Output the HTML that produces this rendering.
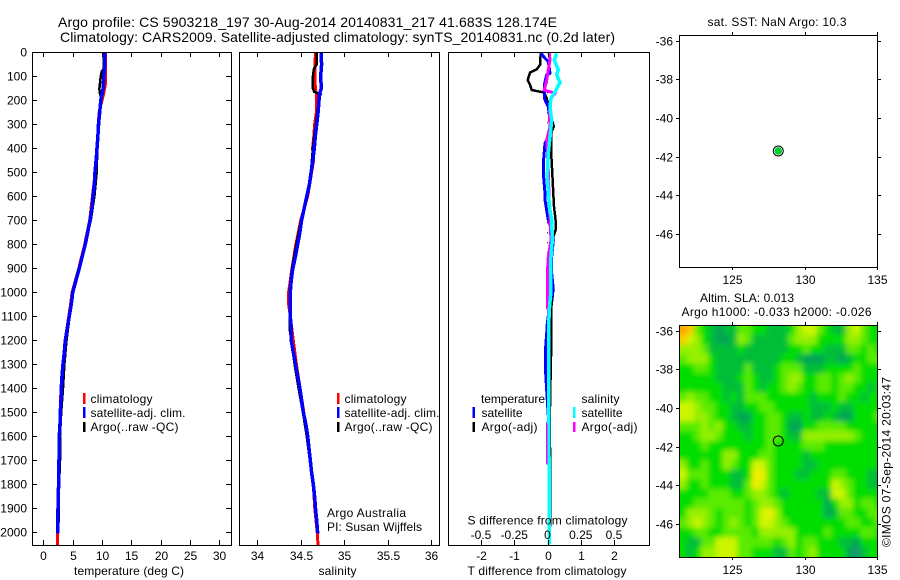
<!DOCTYPE html>
<html>
<head>
<meta charset="utf-8">
<style>
html,body{margin:0;padding:0;background:#fff;}
svg{display:block;}
text{font-family:"Liberation Sans",sans-serif;font-size:12px;fill:#000;}
.title{font-size:14px;}
.frame{fill:none;stroke:#000;stroke-width:1;shape-rendering:crispEdges;}
</style>
</head>
<body>
<svg id="chart" width="900" height="580" viewBox="0 0 900 580" xmlns="http://www.w3.org/2000/svg">
  <rect width="900" height="580" fill="#fff"/>
  <text class="title" x="58" y="27" textLength="499">Argo profile: CS 5903218_197 30-Aug-2014 20140831_217 41.683S 128.174E</text>
  <text class="title" x="60" y="42" textLength="555">Climatology: CARS2009. Satellite-adjusted climatology: synTS_20140831.nc (0.2d later)</text>

  <defs>
    <clipPath id="clip-t"><rect x="32" y="52" width="200" height="494"/></clipPath>
    <clipPath id="clip-s"><rect x="239" y="52" width="201" height="494"/></clipPath>
    <clipPath id="clip-d"><rect x="448" y="52" width="202" height="494"/></clipPath>
    <clipPath id="clip-map"><rect x="679" y="325" width="199" height="232"/></clipPath>
    <filter id="map-smooth" filterUnits="userSpaceOnUse" x="650" y="295" width="260" height="290">
      <feGaussianBlur stdDeviation="2.6"/>
    </filter>
  </defs>

  <g id="temp-marks" clip-path="url(#clip-t)"></g>
  <g id="sal-marks" clip-path="url(#clip-s)"></g>
  <g id="diff-marks" clip-path="url(#clip-d)"></g>
  <g clip-path="url(#clip-map)">
    <g id="map-cells" filter="url(#map-smooth)"></g>
  </g>
  <g id="ticks"></g>

  <rect class="frame" x="32.5" y="52.5" width="199" height="493"/>
  <rect class="frame" x="239.5" y="52.5" width="200" height="493"/>
  <rect class="frame" x="448.5" y="52.5" width="201" height="493"/>
  <rect class="frame" x="679.5" y="35.5" width="198" height="232"/>
  <rect class="frame" x="679.5" y="325.5" width="198" height="232"/>

  <text x="74" y="575" textLength="110">temperature (deg C)</text>
  <text x="318.5" y="575" textLength="38">salinity</text>
  <text x="467.5" y="575" textLength="159">T difference from climatology</text>
  <text x="467.5" y="524.5" textLength="160">S difference from climatology</text>

  <g>
    <rect x="83" y="393" width="2.5" height="11" fill="#f00"/>
    <rect x="83" y="407" width="2.5" height="11" fill="#00f"/>
    <rect x="83" y="422" width="2.5" height="10" fill="#000"/>
    <text x="90.5" y="403" textLength="62">climatology</text>
    <text x="90.5" y="417" textLength="95">satellite-adj. clim.</text>
    <text x="90.5" y="431" textLength="88">Argo(..raw -QC)</text>
  </g>
  <g>
    <rect x="337" y="393" width="2.5" height="11" fill="#f00"/>
    <rect x="337" y="407" width="2.5" height="11" fill="#00f"/>
    <rect x="337" y="422" width="2.5" height="10" fill="#000"/>
    <text x="344.5" y="403" textLength="62">climatology</text>
    <text x="344.5" y="417" textLength="95">satellite-adj. clim.</text>
    <text x="344.5" y="431" textLength="88">Argo(..raw -QC)</text>
  </g>
  <text x="327" y="517" textLength="79">Argo Australia</text>
  <text x="327" y="531" textLength="95">PI: Susan Wijffels</text>

  <g>
    <text x="481" y="403" textLength="64">temperature</text>
    <rect x="472.5" y="407" width="2.5" height="11" fill="#00f"/>
    <text x="481.5" y="417" textLength="41">satellite</text>
    <rect x="472.5" y="422" width="2.5" height="10" fill="#000"/>
    <text x="481.5" y="431" textLength="56">Argo(-adj)</text>
    <text x="581.5" y="403" textLength="38">salinity</text>
    <rect x="573" y="407" width="2.5" height="11" fill="#0ff"/>
    <text x="581.5" y="417" textLength="41">satellite</text>
    <rect x="573" y="422" width="2.5" height="10" fill="#f0f"/>
    <text x="581.5" y="431" textLength="56">Argo(-adj)</text>
  </g>

  <text x="707.5" y="26" textLength="139">sat. SST: NaN Argo: 10.3</text>
  <text x="700" y="302" textLength="94">Altim. SLA: 0.013</text>
  <text x="681.5" y="316" textLength="190">Argo h1000: -0.033 h2000: -0.026</text>
  <text transform="translate(890.5,547) rotate(-90)" x="0" y="0" textLength="170">©IMOS 07-Sep-2014 20:03:47</text>

  <g id="markers"></g>
</svg>

<script>
// ---------- profile data ----------
const tempDepths = [0,50,100,150,200,250,300,350,400,450,500,550,600,650,700,750,800,850,900,950,1000,1050,1100,1150,1200,1250,1300,1350,1400,1450,1500,1550,1600,1700,1800,1850,1900,2005];
const tempSatellite = [10.5,10.5,10.3,10.2,9.8,9.6,9.4,9.3,9.15,9.0,8.8,8.7,8.47,8.3,7.96,7.56,7.16,6.65,6.13,5.57,5.0,4.77,4.43,4.09,3.75,3.58,3.36,3.19,3.07,3.02,2.9,2.85,2.73,2.67,2.62,2.5,2.5,2.45];
const tempClimDepths = [0,90,130,170,250,350,500,700,800,900,1000,1050,1200,1400,1600,1800,2000,2057];
const tempClimatology = [10.6,10.6,10.6,10.3,9.5,9.25,8.85,7.9,7.05,6.05,4.9,4.65,3.72,3.02,2.72,2.57,2.45,2.45];
const tempArgoDepths = [0,70,80,100,150,170,190,300,400,500,600,700,800,900,1000,1200,1300,1400,1500,1600,1700,1800,1900,1960];
const tempArgo = [10.25,10.25,9.95,9.8,9.55,9.6,9.9,9.5,9.2,9.1,8.7,8.1,7.1,6.05,5.0,3.95,3.6,3.35,3.05,2.85,2.85,2.7,2.6,2.6];

const salDepths = [0,50,100,150,170,200,250,300,350,400,450,500,550,600,650,700,750,800,850,900,950,1000,1050,1100,1150,1200,1250,1300,1350,1400,1450,1500,1550,1600,1650,1700,1750,1800,1850,1900,1950,2005];
const salSatellite = [34.733,34.74,34.73,34.737,34.72,34.71,34.7,34.684,34.668,34.656,34.64,34.62,34.6,34.57,34.54,34.51,34.49,34.465,34.44,34.41,34.39,34.38,34.38,34.38,34.39,34.39,34.415,34.44,34.465,34.49,34.51,34.53,34.56,34.58,34.595,34.61,34.625,34.645,34.66,34.67,34.684,34.695];
const salClimDepths = [0,100,150,180,250,300,350,400,450,600,700,800,900,1000,1050,1100,1200,1300,1500,1800,1900,2000,2057];
const salClimatology = [34.668,34.665,34.668,34.684,34.68,34.66,34.65,34.637,34.648,34.58,34.5,34.445,34.4,34.36,34.36,34.38,34.415,34.45,34.535,34.645,34.662,34.69,34.7];
const salArgoDepths = [0,50,70,100,150,165,175,185,250,300,350,400,500,600,700,800,900,950,1000,1150,1200,1300,1400,1500,1600,1700,1800,1900,1950];
const salArgo = [34.687,34.684,34.65,34.64,34.64,34.655,34.73,34.715,34.69,34.675,34.655,34.64,34.617,34.57,34.505,34.45,34.4,34.383,34.372,34.372,34.39,34.43,34.475,34.525,34.57,34.605,34.64,34.665,34.68];

const diffTArgoDepths = [4,32,53,71,84,116,136,157,168,192,227,282,310,338,407,504,588,643,699,741,782,852,921,990,1074,1157,1268,1407,1546,1740,1976];
const diffTArgo = [-0.195,-0.225,-0.225,-0.326,-0.526,-0.596,-0.526,-0.476,-0.095,-0.025,0.045,0.145,0.185,0.105,0.105,0.145,0.175,0.195,0.245,0.245,0.145,0.075,0.125,0.175,0.105,0.105,0.105,0.085,0.065,0.085,0.085];
const diffTSatDepths = [4,25,39,87,94,136,157,192,227,282,338,379,463,504,588,615,699,741,782,852,921,990,1046,1129,1171,1227,1338,1449,1560,1830,1976];
const diffTSatellite = [-0.195,-0.075,0.025,0.075,-0.025,-0.095,-0.095,-0.095,0.025,0.075,0.085,-0.075,-0.125,-0.125,-0.075,-0.075,0.025,0.125,0.175,0.125,0.125,0.175,0.075,-0.005,-0.025,-0.055,-0.055,-0.005,0.045,0.045,0.045];
const diffSArgoDepths = [4,32,73,116,157,171,192,254,310,366,407,490,601,699,782,852,921,990,1060,1080,1530,1550,1718];
const diffSArgo = [0.0138,0.0188,0.0063,-0.0063,-0.0238,0.0564,0.0266,0.0138,0.0188,-0.0063,-0.0013,0.0063,0.0113,0.0188,0.0266,0.0063,-0.0013,-0.0013,-0.0013,0.0088,0.0088,-0.0013,-0.0013];
const diffSSatDepths = [4,32,73,94,126,164,192,227,282,352,421,518,588,660,699,782,852,921,990,1074,1157,1268,1407,1546,1685,2050];
const diffSSatellite = [0.0689,0.0514,0.0815,0.0689,0.094,0.0564,0.0266,0.0188,0.0313,0.0188,0.0063,-0.0013,0.0063,0.0188,0.0313,0.0363,0.0266,0.0238,0.0266,0.0138,0.0075,0.0075,0.0088,0.0113,0.0113,0.0113];

// ---------- tick labels ----------
const depthTicks = [0,100,200,300,400,500,600,700,800,900,1000,1100,1200,1300,1400,1500,1600,1700,1800,1900,2000];
const tempTicks = [0,5,10,15,20,25,30];
const salTicks = [34,34.5,35,35.5,36];
const tDiffTicks = [-2,-1,0,1,2];
const sDiffTicks = [-0.5,-0.25,0,0.25,0.5];
const lonTicks = [125,130,135];
const latTicks = [-36,-38,-40,-42,-44,-46];

// ---------- map data ----------
const argoLon = 128.174;
const argoLat = -41.683;
const slaRows = [
[6,5,1,0,-1,-2,-1,-1,1,1,0,0,-1,-1,-1,0,2,3,3,1,0,-1,-1,2,3,1,0,0],
[5,3,2,0,-1,-2,-2,-1,2,1,-1,-1,-1,-1,-1,1,2,2,2,0,0,0,0,2,2,1,0,0],
[2,2,2,1,-1,-1,-1,-1,0,-1,-1,-1,-1,-1,-1,0,0,1,0,0,-1,-1,-1,1,1,0,1,0],
[1,2,2,2,0,-1,-1,-1,-1,-1,-1,-1,-1,-1,0,0,-1,-2,-2,-2,-1,-1,-2,-1,0,0,1,1],
[0,0,1,1,0,-1,-1,-1,-1,1,-1,-1,-1,0,1,1,1,-1,-1,-1,0,0,0,0,1,0,0,0],
[0,0,0,0,0,-1,-1,-1,0,1,0,-1,-1,0,1,2,2,0,0,1,1,0,1,2,1,0,0,0],
[0,0,0,0,0,0,-1,-1,-1,1,0,-1,0,0,1,2,1,0,0,1,1,0,1,1,0,0,-1,0],
[1,2,1,1,0,0,-1,0,-1,1,1,1,0,0,0,0,0,0,-1,0,0,0,1,0,0,-1,0,0],
[3,3,2,1,1,0,0,-1,-1,0,0,1,1,0,0,0,0,0,-1,-1,-1,0,-1,-1,0,0,0,0],
[3,3,2,2,1,0,0,-1,-2,-2,0,0,1,1,0,-1,-1,0,-1,-1,0,-1,-2,-2,0,0,0,1],
[1,1,1,2,1,2,0,0,-1,-1,0,0,1,1,0,-2,-2,0,0,1,1,1,1,0,0,0,0,0],
[0,0,1,2,2,1,0,0,0,-1,0,0,1,1,0,-1,-1,2,2,2,2,2,2,2,1,0,0,0],
[0,0,0,1,0,0,0,0,0,0,0,0,1,0,0,0,0,1,1,1,0,0,0,0,0,0,0,0],
[0,0,0,0,0,0,2,2,0,0,0,1,1,0,0,0,0,-1,0,0,0,0,0,0,0,0,0,0],
[2,0,0,1,0,0,2,1,0,0,3,3,1,0,0,0,0,-1,-1,0,0,0,0,0,0,0,0,0],
[3,1,1,1,0,0,0,-1,-1,0,4,4,1,0,0,0,-1,-1,0,0,0,1,1,0,0,0,-1,-1],
[2,0,0,1,0,0,0,-1,-1,1,4,3,1,0,0,0,0,0,0,0,0,3,2,1,0,0,-1,-1],
[0,0,0,0,1,1,1,0,0,1,2,2,1,0,-1,0,0,0,0,-1,-1,3,3,1,0,0,0,0],
[0,0,1,1,1,1,1,1,1,0,1,2,2,1,0,0,0,0,0,0,-2,0,2,2,0,1,1,0],
[0,2,2,2,1,0,1,1,1,0,1,3,4,2,0,0,0,0,0,0,-2,-1,1,1,0,0,1,1],
[1,2,3,2,1,0,1,2,1,0,1,3,3,2,1,0,0,0,0,0,0,0,0,1,1,0,0,1],
[0,0,1,1,0,0,1,1,1,1,0,2,2,2,2,2,0,0,0,0,1,0,0,0,0,1,1,0],
[0,-1,-1,1,1,3,3,3,1,1,1,1,1,0,1,2,0,1,1,0,0,0,-1,-1,-2,0,0,0],
[0,-1,0,2,2,3,3,3,1,1,0,0,0,-1,-1,1,0,1,2,0,0,0,0,-2,-3,-1,0,0]
];

// ---------- axis functions ----------
const NS = 'http://www.w3.org/2000/svg';
const yDepth = d => 52.3 + 0.24 * d;
const xTemp = t => 43.3 + 5.87 * t;
const xSal = s => 257.3 + 86.85 * (s - 34);
const xTDiff = t => 547.5 + 33.25 * t;
const xSDiff = s => 547.5 + 133 * s;
const xLon = lon => 732.3 + 14.48 * (lon - 125);
const yLatTop = lat => 40.7 + 19.3 * (-36 - lat);
const yLatBottom = lat => 330.7 + 19.3 * (-36 - lat);

const colorLevels = [-3,-2,-1,0,1,2,3,4,5,6];
const colorStops = [[20,150,110],[0,165,85],[0,190,55],[0,222,0],[90,235,0],[150,240,0],[205,245,0],[240,240,0],[255,200,0],[255,165,0]];
function slaColor(v){
  let i = 0;
  while (i < colorLevels.length - 2 && v > colorLevels[i + 1]) i++;
  const f = Math.max(0, Math.min(1, (v - colorLevels[i]) / (colorLevels[i + 1] - colorLevels[i])));
  const c = colorStops[i].map((a, k) => Math.round(a + (colorStops[i + 1][k] - a) * f));
  return 'rgb(' + c.join(',') + ')';
}

function drawLine(parent, name, xs, depths, xFn, color, width){
  const el = document.createElementNS(NS, 'polyline');
  
  
  el.setAttribute('points', xs.map((v, i) => xFn(v).toFixed(1) + ',' + yDepth(depths[i]).toFixed(1)).join(' '));
  el.setAttribute('fill', 'none');
  el.setAttribute('stroke', color);
  el.setAttribute('stroke-width', width);
  el.setAttribute('shape-rendering', 'crispEdges');
  parent.appendChild(el);
}

function drawTick(x1, y1, x2, y2){
  const el = document.createElementNS(NS, 'line');
  
  
  el.setAttribute('x1', x1);
  el.setAttribute('y1', y1);
  el.setAttribute('x2', x2);
  el.setAttribute('y2', y2);
  el.setAttribute('stroke', '#000');
  el.setAttribute('stroke-width', 1);
  el.setAttribute('shape-rendering', 'crispEdges');
  document.getElementById('ticks').appendChild(el);
}

function drawLabel(x, y, str, anchor){
  const el = document.createElementNS(NS, 'text');
  
  
  el.setAttribute('x', x);
  el.setAttribute('y', y);
  el.setAttribute('text-anchor', anchor);
  el.textContent = str;
  document.getElementById('ticks').appendChild(el);
}

const snap = v => Math.round(v) + 0.5;

// series
const tempG = document.getElementById('temp-marks');
drawLine(tempG, 'temperature-climatology-line', tempClimatology, tempClimDepths, xTemp, '#f00', 3);
drawLine(tempG, 'temperature-argo-line', tempArgo, tempArgoDepths, xTemp, '#000', 2.5);
drawLine(tempG, 'temperature-satellite-line', tempSatellite, tempDepths, xTemp, '#00f', 3.5);

const salG = document.getElementById('sal-marks');
drawLine(salG, 'salinity-climatology-line', salClimatology, salClimDepths, xSal, '#f00', 3);
drawLine(salG, 'salinity-argo-line', salArgo, salArgoDepths, xSal, '#000', 2.5);
drawLine(salG, 'salinity-satellite-line', salSatellite, salDepths, xSal, '#00f', 3.5);

const diffG = document.getElementById('diff-marks');
const zeroLine = document.createElementNS(NS, 'line');


zeroLine.setAttribute('x1', xTDiff(0));
zeroLine.setAttribute('x2', xTDiff(0));
zeroLine.setAttribute('y1', yDepth(0));
zeroLine.setAttribute('y2', yDepth(900));
zeroLine.setAttribute('stroke', '#000');
zeroLine.setAttribute('stroke-width', 1);
zeroLine.setAttribute('stroke-dasharray', '1 9');
diffG.appendChild(zeroLine);
drawLine(diffG, 't-difference-argo-line', diffTArgo, diffTArgoDepths, xTDiff, '#000', 2.5);
drawLine(diffG, 't-difference-satellite-line', diffTSatellite, diffTSatDepths, xTDiff, '#00f', 3);
drawLine(diffG, 's-difference-argo-line', diffSArgo, diffSArgoDepths, xSDiff, '#f0f', 3);
drawLine(diffG, 's-difference-satellite-line', diffSSatellite, diffSSatDepths, xSDiff, '#0ff', 3.5);

// ticks: depth axis
depthTicks.forEach(d => {
  const y = snap(yDepth(d));
  drawTick(32, y, 37, y);
  drawTick(226, y, 231, y);
  drawLabel(27, y + 4, String(d), 'end');
});
// ticks: temperature
tempTicks.forEach(t => {
  const x = snap(xTemp(t));
  drawTick(x, 52, x, 57);
  drawTick(x, 540, x, 545);
  drawLabel(x, 560, String(t), 'middle');
});
// ticks: salinity
salTicks.forEach(s => {
  const x = snap(xSal(s));
  drawTick(x, 52, x, 57);
  drawTick(x, 540, x, 545);
  drawLabel(x, 560, String(s), 'middle');
});
// ticks: difference axes
tDiffTicks.forEach(t => {
  const x = snap(xTDiff(t));
  drawTick(x, 52, x, 57);
  drawTick(x, 540, x, 545);
  drawLabel(x, 560, String(t), 'middle');
});
sDiffTicks.forEach(s => {
  drawLabel(xSDiff(s), 539, String(s), 'middle');
});
// ticks: maps
[[35, 267, yLatTop], [325, 557, yLatBottom]].forEach(m => {
  lonTicks.forEach(lon => {
    const x = snap(xLon(lon));
    drawTick(x, m[0] - 3, x, m[0]);
    drawTick(x, m[1], x, m[1] + 3);
    drawLabel(x, m[1] + 17, String(lon), 'middle');
  });
  latTicks.forEach(lat => {
    const y = snap(m[2](lat));
    drawTick(676, y, 679, y);
    drawTick(878, y, 881, y);
    drawLabel(673, y + 4, String(lat), 'end');
  });
});

// heatmap cells (outer cells extend past the clip so the smoothing keeps colour at the edges)
const cellG = document.getElementById('map-cells');
const cellDeg = 0.5;
const lon0 = 121.34;
const lat0 = -35.7;
slaRows.forEach((row, r) => {
  row.forEach((v, c) => {
    const x0 = xLon(lon0 + c * cellDeg) - (c === 0 ? 15 : 0);
    const x1 = xLon(lon0 + (c + 1) * cellDeg) + (c === row.length - 1 ? 15 : 0);
    const y0 = yLatBottom(lat0 - r * cellDeg) - (r === 0 ? 15 : 0);
    const y1 = yLatBottom(lat0 - (r + 1) * cellDeg) + (r === slaRows.length - 1 ? 15 : 0);
    const cell = document.createElementNS(NS, 'rect');
    
    
    cell.setAttribute('x', x0.toFixed(2));
    cell.setAttribute('y', y0.toFixed(2));
    cell.setAttribute('width', (x1 - x0 + 0.3).toFixed(2));
    cell.setAttribute('height', (y1 - y0 + 0.3).toFixed(2));
    cell.setAttribute('fill', slaColor(v));
    cellG.appendChild(cell);
  });
});

// location markers
const markerG = document.getElementById('markers');
const ringTop = document.createElementNS(NS, 'circle');


ringTop.setAttribute('cx', xLon(argoLon));
ringTop.setAttribute('cy', yLatTop(argoLat) + 0.6);
ringTop.setAttribute('r', 5);
ringTop.setAttribute('fill', '#fff');
ringTop.setAttribute('stroke', '#000');
markerG.appendChild(ringTop);
const dotTop = document.createElementNS(NS, 'circle');


dotTop.setAttribute('cx', xLon(argoLon));
dotTop.setAttribute('cy', yLatTop(argoLat) + 0.6);
dotTop.setAttribute('r', 3.8);
dotTop.setAttribute('fill', '#00d030');
markerG.appendChild(dotTop);
const ringBottom = document.createElementNS(NS, 'circle');


ringBottom.setAttribute('cx', xLon(argoLon));
ringBottom.setAttribute('cy', yLatBottom(argoLat) + 0.6);
ringBottom.setAttribute('r', 5);
ringBottom.setAttribute('fill', 'none');
ringBottom.setAttribute('stroke', '#000');
markerG.appendChild(ringBottom);
</script>
</body>
</html>
